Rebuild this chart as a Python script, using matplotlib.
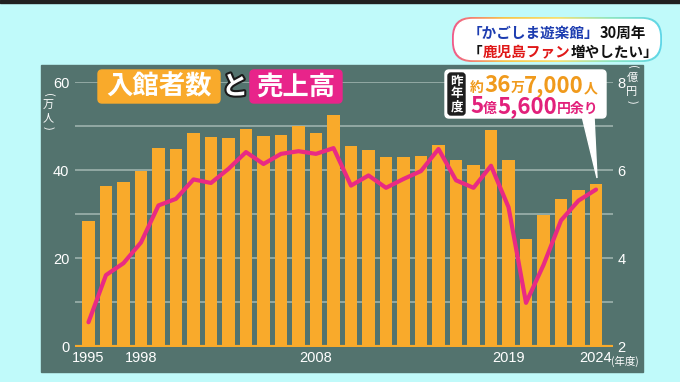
import matplotlib
matplotlib.use('Agg')
import matplotlib.pyplot as plt
import matplotlib.patheffects as pe
from matplotlib.patches import FancyBboxPatch, Rectangle, Polygon
import numpy as np

# data
years = list(range(1995, 2025))
visitors = [28.5, 36.5, 37.3, 39.7, 45.1, 44.8, 48.5, 47.5, 47.3, 49.4,
            47.7, 48.0, 50.1, 48.4, 52.6, 45.4, 44.5, 43.1, 42.9, 43.2,
            45.7, 42.4, 41.1, 49.1, 42.4, 24.3, 29.8, 33.4, 35.6, 36.8]   # 万人
sales = [2.55, 3.62, 3.89, 4.36, 5.20, 5.35, 5.79, 5.71, 6.03, 6.41,
         6.14, 6.37, 6.43, 6.37, 6.50, 5.65, 5.88, 5.60, 5.80, 5.98,
         6.48, 5.77, 5.60, 6.10, 5.16, 2.99, 3.85, 4.86, 5.31, 5.56]     # 億円
year_ticks = [1995, 1998, 2008, 2019, 2024]
left_ticks = [0, 10, 20, 30, 40, 50, 60]
left_labels = ['0', '', '20', '', '40', '', '60']
right_ticks = [2, 4, 6, 8]

W, H = 680, 382
bg = '#c0fafa'
panel = '#53736e'
orange = '#f9aa2b'
pink = '#e92a84'
gridc = '#a3b8b3'
cjk = ['Noto Sans CJK JP', 'DejaVu Sans']
num = ['Liberation Sans Narrow', 'Liberation Sans', 'DejaVu Sans']

fig = plt.figure(figsize=(W / 100, H / 100), dpi=100, facecolor=bg)
renderer = fig.canvas.get_renderer()

# background layer in pixel coordinates
back = fig.add_axes([0, 0, 1, 1], zorder=0)
back.set_xlim(0, W)
back.set_ylim(H, 0)
back.axis('off')
back.add_patch(Rectangle((0, 0), W, 2.5, color='#202020'))
back.add_patch(Rectangle((41, 65), 602, 307, color=panel))

# main chart
ax = fig.add_axes([75 / W, (H - 346.5) / H, (613 - 75) / W, (346.5 - 82) / H], zorder=1)
ax.patch.set_visible(False)
ax.bar(years, visitors, width=0.72, color=orange, zorder=2)
ax.axhline(0, color=orange, lw=3, zorder=3)
ax.set_xlim(1994.23, 2024.97)
ax.set_ylim(0, 60)
ax.set_yticks(left_ticks)
ax.set_yticklabels(left_labels)
ax.set_xticks(year_ticks)
ax.set_xticklabels([str(y) for y in year_ticks])
ax.yaxis.grid(True, color=gridc, lw=1.1)
ax.set_axisbelow(True)
for s in ax.spines.values():
    s.set_visible(False)
ax.tick_params(axis='y', length=0, pad=4, labelcolor='white', labelsize=10.5)
ax.tick_params(axis='x', length=0, pad=3.5, labelcolor='white', labelsize=10.5)
for lab in ax.get_xticklabels() + ax.get_yticklabels():
    lab.set_family(num)

ax2 = ax.twinx()
ax2.patch.set_visible(False)
ax2.plot(years, sales, color=pink, lw=3, solid_joinstyle='round', solid_capstyle='round')
ax2.set_ylim(2, 8)
ax2.set_yticks(right_ticks)
for s in ax2.spines.values():
    s.set_visible(False)
ax2.tick_params(axis='y', length=0, pad=3, labelcolor='white', labelsize=10.5)
for lab in ax2.get_yticklabels():
    lab.set_family(num)

# foreground layer in pixel coordinates
fg = fig.add_axes([0, 0, 1, 1], zorder=5)
fg.patch.set_visible(False)
fg.axis('off')


def run(x, y, pieces):
    # pieces: (text, size, colour, extra shift before the piece)
    for s, size, color, kern in pieces:
        x += kern
        t = fg.text(x, y, s, fontsize=size, color=color, ha='left', va='baseline',
                    fontweight='bold', family=cjk, zorder=4)
        x += t.get_window_extent(renderer).width


# unit labels
for ch, yy, rot in [('(', 95, -90), ('万', 105, 0), ('人', 118, 0), (')', 128, -90)]:
    fg.text(48, yy, ch, fontsize=8, color='white', ha='center', va='center', family=cjk, rotation=rot)
for ch, yy, rot in [('(', 67, -90), ('億', 77.5, 0), ('円', 92, 0), (')', 102, -90)]:
    fg.text(632, yy, ch, fontsize=8, color='white', ha='center', va='center', family=cjk, rotation=rot)
fg.text(611, 361, '(年度)', fontsize=7.5, color='white', ha='left', va='center', family=cjk)

# title
fg.add_patch(FancyBboxPatch((98, 70), 122, 33, boxstyle='round,pad=0,rounding_size=4', color=orange))
fg.text(159, 87, '入館者数', fontsize=19, color='white', fontweight='bold', ha='center', va='center', family=cjk)
fg.text(235, 87, 'と', fontsize=19, color='white', fontweight='bold', ha='center', va='center', family=cjk,
        path_effects=[pe.withStroke(linewidth=3, foreground='#1a1a1a')])
fg.add_patch(FancyBboxPatch((250, 70), 92, 33, boxstyle='round,pad=0,rounding_size=4', color='#e8248a'))
fg.text(296, 87, '売上高', fontsize=19, color='white', fontweight='bold', ha='center', va='center', family=cjk)

# callout
fg.add_patch(FancyBboxPatch((445, 70), 161, 48, boxstyle='round,pad=0,rounding_size=4', color='white'))
fg.add_patch(Polygon([(582, 116), (594, 116), (597, 178)], closed=True, color='white'))
fg.add_patch(FancyBboxPatch((448, 73), 17, 42, boxstyle='round,pad=0,rounding_size=3', color='#1e1e1e'))
fg.text(456.5, 94, '昨\n年\n度', fontsize=9, color='white', fontweight='bold', ha='center', va='center',
        family=cjk, linespacing=1.0)
c1, c2 = '#f09a1c', '#e2217b'
run(470, 92, [('約', 10, c1, 0), ('36', 16, c1, 0), ('万', 10, c1, 0),
              ('7,000', 16, c1, 0), ('人', 10, c1, 0)])
run(470, 113, [('5', 16, c2, 0), ('億', 10, c2, 0), ('5,600', 16, c2, 0),
               ('円余り', 10, c2, 0)])

# badge with gradient border
outer = FancyBboxPatch((452, 17), 210, 45, boxstyle='round,pad=0,rounding_size=20',
                       facecolor='none', edgecolor='none')
fg.add_patch(outer)
grad = np.linspace(0, 1, 256).reshape(1, -1)
cmap = matplotlib.colors.LinearSegmentedColormap.from_list(
    'rim', ['#f05a8a', '#f7c64a', '#f6e070', '#8fe6c0', '#5fd6e8'])
im = fg.imshow(grad, extent=(452, 662, 62, 17), aspect='auto', cmap=cmap, zorder=1)
im.set_clip_path(outer)
fg.add_patch(FancyBboxPatch((454.5, 19.5), 205, 40, boxstyle='round,pad=0,rounding_size=18',
                            color='white', zorder=2))
fg.set_xlim(0, W)
fg.set_ylim(H, 0)
run(468, 38, [('「かごしま遊楽館」', 10.5, '#1c3cb0', 0), ('30周年', 10.5, '#111111', 0)])
run(468, 57, [('「', 10.5, '#111111', 0), ('鹿児島ファン', 10.5, '#e01818', 0),
              ('増やしたい」', 10.5, '#111111', 0)])

fig.savefig('out.png', dpi=100, facecolor=bg)
